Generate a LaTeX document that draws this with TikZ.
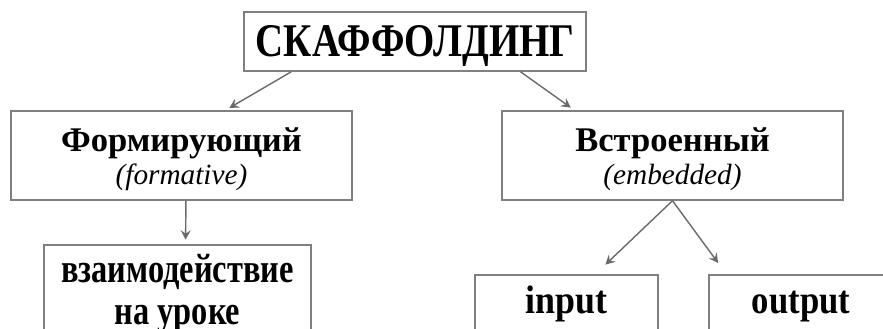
\documentclass[tikz,border=0pt]{standalone}
\usepackage{fontspec}
\usepackage{graphicx}
\setmainfont{Liberation Serif}
\usetikzlibrary{calc,arrows.meta}
\definecolor{edgegray}{HTML}{6A6A6A}
\definecolor{framegray}{HTML}{808080}
\tikzset{
  box/.style={draw=framegray, line width=1.2pt, inner sep=0pt, align=center, fill=white},
  arr/.style={draw=edgegray, line width=1.2pt, -{Stealth[length=8pt,width=8.5pt,inset=3pt]}},
}
\begin{document}
\begin{tikzpicture}[x=0.03cm,y=-0.03cm]
\useasboundingbox (0,0) rectangle (883,328);
\clip (0,0) rectangle (883,328);
\node[box, minimum width=10.26cm, minimum height=1.77cm, text height=26.4pt, text depth=0pt,
      font=\fontsize{40}{44}\selectfont\bfseries] (top) at (415,41.5)
  {\scalebox{0.83}[1]{СКАФФОЛДИНГ}};
\node[box, minimum width=10.23cm, minimum height=2.67cm,
      font=\fontsize{29.5}{28}\selectfont\bfseries] (form) at (181.5,155.5)
  {\rule{0pt}{27pt}Формирующий\\
   {\fontsize{25}{28}\selectfont\mdseries\itshape (formative)}};
\node[box, minimum width=10.23cm, minimum height=2.67cm,
      font=\fontsize{29.5}{28}\selectfont\bfseries] (emb) at (672.5,155.5)
  {\rule{0pt}{27pt}Встроенный\\
   {\fontsize{25}{28}\selectfont\mdseries\itshape (embedded)}};
\node[box, minimum width=8.01cm, minimum height=2.94cm,
      font=\fontsize{35}{32.3}\selectfont\bfseries] (inter) at (177.5,294)
  {\scalebox{0.79}[1]{взаимодействие}\\[4pt]
   \scalebox{0.79}[1]{на уроке}};
\node[box, minimum width=5.49cm, minimum height=2.28cm, text height=0pt, text depth=0pt,
      font=\fontsize{34}{36}\selectfont\bfseries] (in) at (566.5,313)
  {\scalebox{0.9}[1]{input}};
\node[box, minimum width=5.52cm, minimum height=2.28cm, text height=0pt, text depth=0pt,
      font=\fontsize{34}{36}\selectfont\bfseries] (out) at (801,313)
  {\scalebox{0.87}[1]{output}};
\draw[arr, shorten >=4pt] ($(top.south west)!0.14!(top.south east)$) -- ($(form.north west)!0.628!(form.north east)$);
\draw[arr, shorten >=4pt] ($(top.south west)!0.807!(top.south east)$) -- ($(emb.north west)!0.214!(emb.north east)$);
\draw[arr, shorten >=4pt] ($(form.south west)!0.513!(form.south east)$) -- ($(inter.north west)!0.53!(inter.north east)$);
\draw[arr, shorten >=12pt] (emb.south) -- ($(in.north west)!0.656!(in.north east)$);
\draw[arr, shorten >=12pt] (emb.south) -- ($(out.north west)!0.098!(out.north east)$);
\end{tikzpicture}
\end{document}
